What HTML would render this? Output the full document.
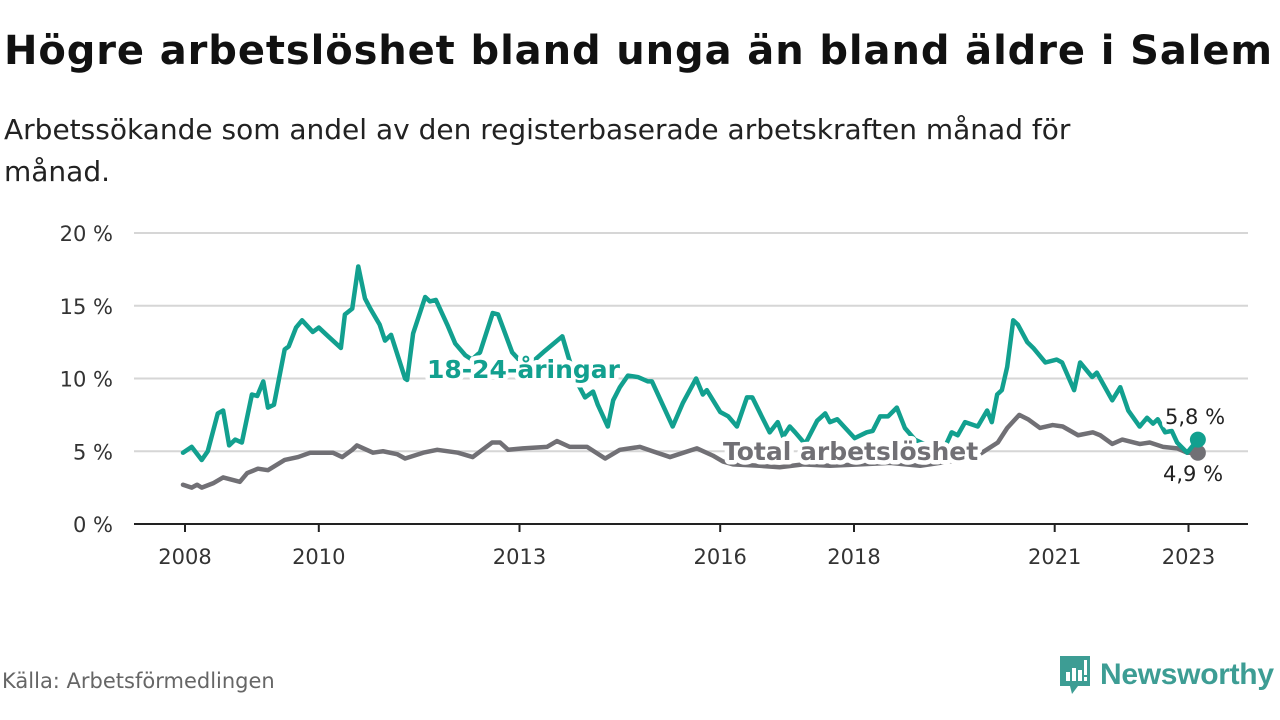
<!DOCTYPE html>
<html><head><meta charset="utf-8">
<style>
body{margin:0;width:1280px;height:720px;background:#fff;font-family:"DejaVu Sans","Liberation Sans",sans-serif;overflow:hidden;position:relative}
.t{position:absolute;left:4px;top:28px;font-size:40px;font-weight:bold;color:#111;letter-spacing:0.9px;white-space:nowrap}
.s{position:absolute;left:4px;top:109px;font-size:28px;color:#222;line-height:42px;width:1170px}
.src{position:absolute;left:2px;top:669px;font-size:21px;color:#666}
.logo{position:absolute;left:1058px;top:654px;display:flex;align-items:center}
.logo span{font-family:"Liberation Sans",sans-serif;font-size:30px;font-weight:bold;color:#3d9d94;margin-left:8px;letter-spacing:-0.3px}
</style></head><body>
<div class="t">Högre arbetslöshet bland unga än bland äldre i Salem</div>
<div class="s">Arbetssökande som andel av den registerbaserade arbetskraften månad för månad.</div>
<svg id="chart" width="1280" height="720" style="position:absolute;left:0;top:0"></svg>
<div class="src">Källa: Arbetsförmedlingen</div>
<div class="logo">
<svg width="34" height="42" viewBox="0 0 34 42"><path d="M2 2h30v30H20l-6 8-2-8H2z" fill="#3d9d94"/><rect x="8" y="18" width="4" height="9" fill="#fff"/><rect x="14" y="14" width="4" height="13" fill="#fff"/><rect x="20" y="16" width="4" height="11" fill="#fff"/><rect x="26" y="6" width="3" height="15" fill="#fff"/><rect x="26" y="23" width="3" height="4" fill="#fff"/></svg>
<span>Newsworthy</span></div>
<script>
const yTicks=[0,5,10,15,20];
const yTickLabels=["0 %","5 %","10 %","15 %","20 %"];
const xTicks=[2008,2010,2013,2016,2018,2021,2023];
const youthDates=[2007.97,2008.10,2008.25,2008.34,2008.49,2008.57,2008.66,2008.75,2008.85,2009.00,2009.08,2009.17,2009.24,2009.33,2009.49,2009.55,2009.66,2009.75,2009.91,2010.00,2010.14,2010.33,2010.39,2010.50,2010.59,2010.69,2010.77,2010.91,2010.99,2011.08,2011.29,2011.32,2011.41,2011.59,2011.66,2011.75,2011.92,2012.04,2012.19,2012.29,2012.41,2012.60,2012.68,2012.89,2013.01,2013.16,2013.38,2013.64,2013.73,2013.83,2013.98,2014.10,2014.17,2014.32,2014.40,2014.50,2014.62,2014.77,2014.92,2014.98,2015.29,2015.44,2015.64,2015.74,2015.80,2016.00,2016.12,2016.25,2016.40,2016.48,2016.62,2016.74,2016.86,2016.94,2017.04,2017.12,2017.27,2017.45,2017.57,2017.64,2017.75,2017.87,2018.01,2018.19,2018.28,2018.39,2018.51,2018.64,2018.76,2018.91,2019.14,2019.32,2019.46,2019.55,2019.66,2019.85,2019.99,2020.06,2020.14,2020.21,2020.29,2020.38,2020.45,2020.59,2020.68,2020.86,2021.03,2021.11,2021.29,2021.38,2021.56,2021.63,2021.86,2021.98,2022.10,2022.27,2022.38,2022.47,2022.54,2022.65,2022.75,2022.83,2022.98,2023.14];
const youthValues=[4.9,5.3,4.4,5.0,7.6,7.8,5.4,5.8,5.6,8.9,8.8,9.8,8.0,8.2,12.0,12.2,13.5,14.0,13.2,13.5,12.9,12.1,14.4,14.8,17.7,15.5,14.8,13.7,12.6,13.0,10.0,9.9,13.1,15.6,15.3,15.4,13.7,12.4,11.6,11.3,11.8,14.5,14.4,11.8,11.2,11.0,11.9,12.9,11.5,10.0,8.7,9.1,8.2,6.7,8.5,9.4,10.2,10.1,9.8,9.8,6.7,8.3,10.0,8.9,9.2,7.7,7.4,6.7,8.7,8.7,7.4,6.3,7.0,6.0,6.7,6.3,5.5,7.1,7.6,7.0,7.2,6.6,5.9,6.3,6.4,7.4,7.4,8.0,6.6,5.8,5.3,4.9,6.3,6.1,7.0,6.7,7.8,7.0,8.9,9.2,10.8,14.0,13.7,12.5,12.1,11.1,11.3,11.1,9.2,11.1,10.1,10.4,8.5,9.4,7.8,6.7,7.3,6.9,7.2,6.3,6.4,5.6,4.9,5.8];
const totalDates=[2007.97,2008.10,2008.18,2008.25,2008.42,2008.57,2008.82,2008.93,2009.09,2009.24,2009.49,2009.69,2009.87,2010.06,2010.21,2010.35,2010.50,2010.57,2010.81,2010.96,2011.17,2011.29,2011.56,2011.77,2012.08,2012.30,2012.59,2012.71,2012.83,2013.05,2013.41,2013.56,2013.75,2014.01,2014.28,2014.50,2014.80,2014.99,2015.25,2015.65,2015.89,2016.04,2016.19,2016.59,2016.89,2017.24,2017.64,2018.09,2018.54,2018.99,2019.43,2019.81,2020.15,2020.29,2020.47,2020.60,2020.78,2020.97,2021.12,2021.35,2021.57,2021.68,2021.86,2022.01,2022.27,2022.42,2022.62,2022.83,2022.98,2023.14];
const totalValues=[2.7,2.5,2.7,2.5,2.8,3.2,2.9,3.5,3.8,3.7,4.4,4.6,4.9,4.9,4.9,4.6,5.1,5.4,4.9,5.0,4.8,4.5,4.9,5.1,4.9,4.6,5.6,5.6,5.1,5.2,5.3,5.7,5.3,5.3,4.5,5.1,5.3,5.0,4.6,5.2,4.7,4.3,4.1,4.0,3.9,4.1,4.0,4.1,4.2,4.0,4.3,4.6,5.6,6.6,7.5,7.2,6.6,6.8,6.7,6.1,6.3,6.1,5.5,5.8,5.5,5.6,5.3,5.2,4.9,4.9];

const NS="http://www.w3.org/2000/svg";
const svg=document.getElementById('chart');
const X=y=>185+(y-2008)*66.9;
const Y=v=>524-v*14.55;
const FF='DejaVu Sans, Liberation Sans, sans-serif';
function el(t,a){const e=document.createElementNS(NS,t);for(const k in a)e.setAttribute(k,a[k]);svg.appendChild(e);return e;}
yTicks.forEach((t,i)=>{
 const g=el('line',{x1:134,x2:1248,y1:Y(t),y2:Y(t),stroke:t===0?'#222':'#d6d6d6','stroke-width':2});
 
 
 const tx=el('text',{x:113,y:Y(t)+8,'text-anchor':'end','font-size':21,fill:'#333','font-family':FF});
 tx.textContent=yTickLabels[i];
 
 
});
xTicks.forEach(t=>{
 const l=el('line',{x1:X(t),x2:X(t),y1:524,y2:532,stroke:'#222','stroke-width':2});
 
 
 const tx=el('text',{x:X(t),y:564,'text-anchor':'middle','font-size':21,fill:'#333','font-family':FF});
 tx.textContent=String(t);
 
 
});
function line(d,v,c,name){
 const p=el('polyline',{points:d.map((x,i)=>X(x)+','+Y(v[i])).join(' '),fill:'none',stroke:c,'stroke-width':4.5,'stroke-linejoin':'round','stroke-linecap':'round'});
 
 
 const n=d.length-1;
 const c2=el('circle',{cx:X(d[n]),cy:Y(v[n]),r:8,fill:c});
 
 
}
line(totalDates,totalValues,'#717075','total-line');
line(youthDates,youthValues,'#12a08f','youth-line');
function lab(x,y,t,c,w,name,sz){
 const tx=el('text',{x:x,y:y,'font-size':sz,'font-weight':w,fill:c,stroke:'#fff','stroke-width':9,'paint-order':'stroke','stroke-linejoin':'round','font-family':FF});
 tx.textContent=t;
 
 
}
lab(427,378,'18-24-åringar','#12a08f','bold','youth-series-label',25);
lab(723,460,'Total arbetslöshet','#717075','bold','total-series-label',25);
lab(1165,424,'5,8 %','#222','normal','youth-end-value',21);
lab(1163,481,'4,9 %','#222','normal','total-end-value',21);
</script>
</body></html>
